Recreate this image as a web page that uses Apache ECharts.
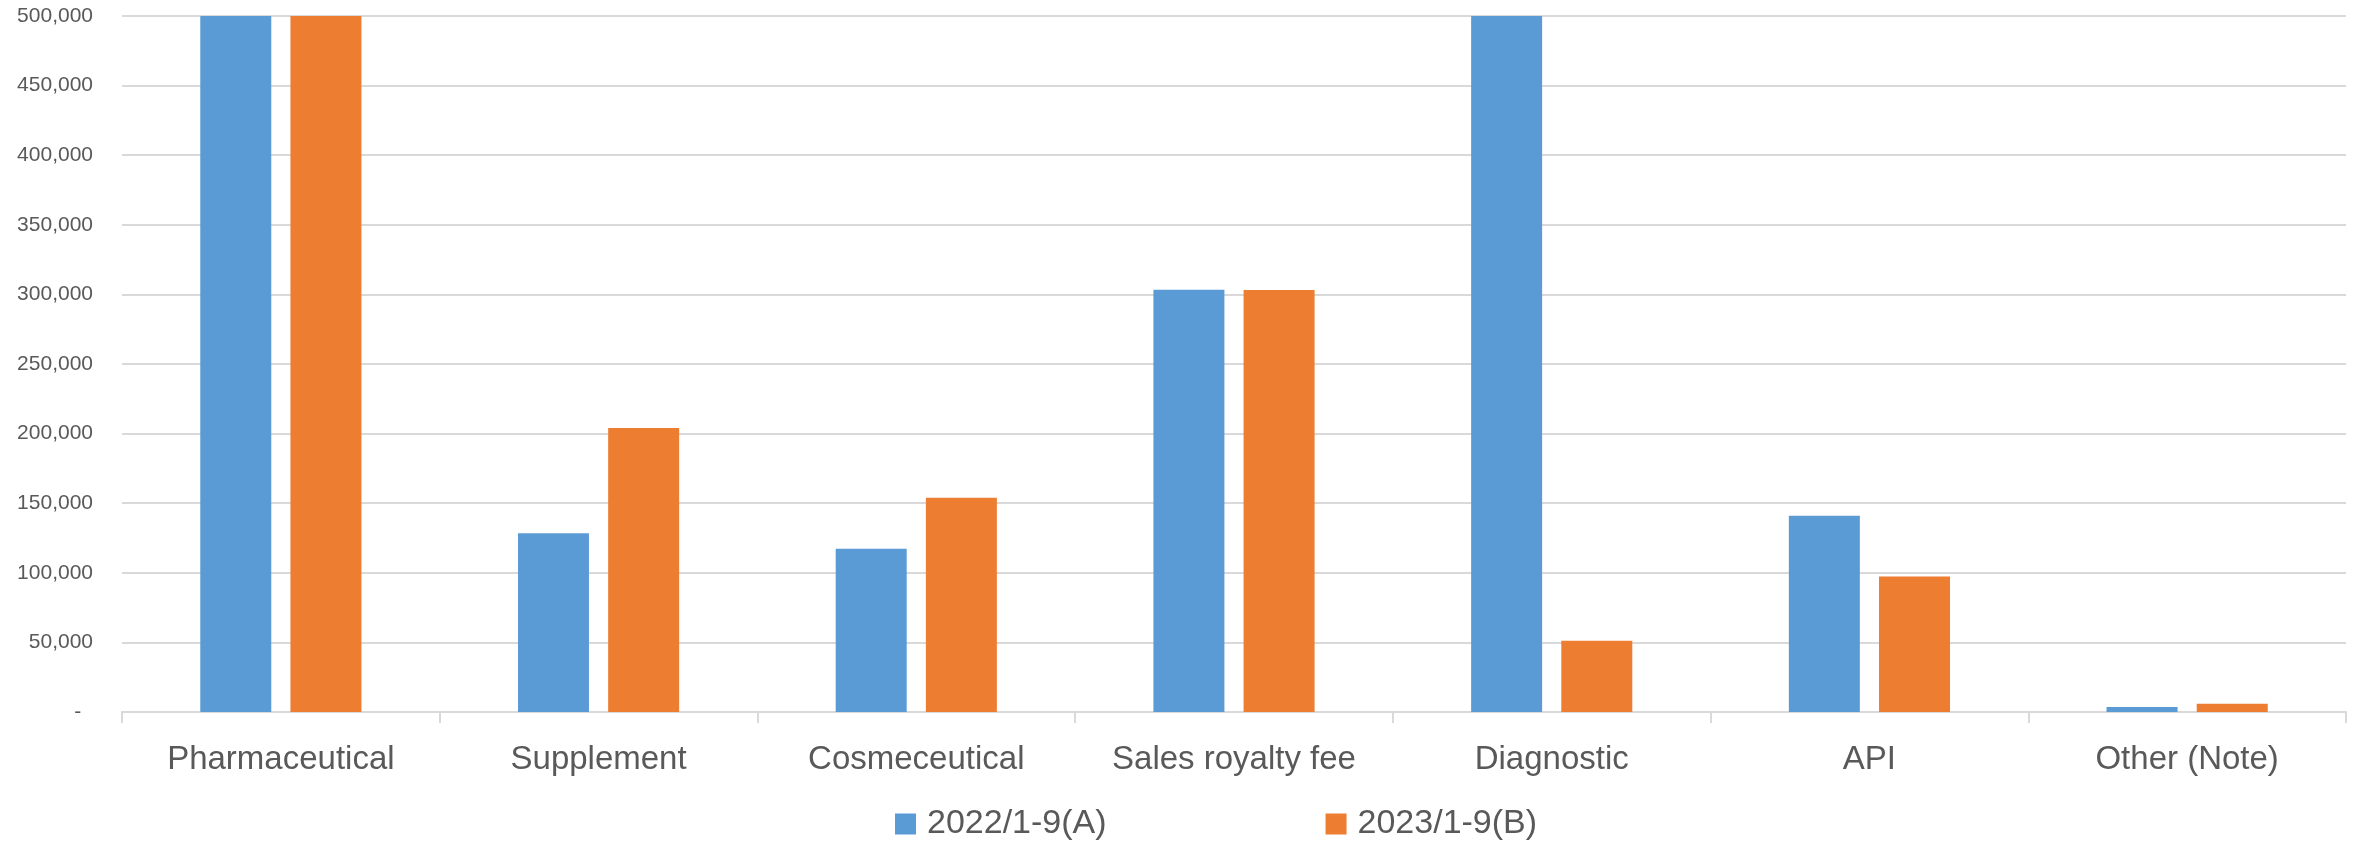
<!DOCTYPE html>
<html>
<head>
<meta charset="utf-8">
<script src="https://cdn.jsdelivr.net/npm/echarts@6/dist/echarts.min.js"></script>
<style>
html,body{margin:0;padding:0;background:#fff;}
#chart{width:2362px;height:845px;}
</style>
</head>
<body>
<div id="chart"></div>
<script>
// Categories and series (values above 500,000 are clipped in the source chart at the axis maximum)
const categories = ['Pharmaceutical', 'Supplement', 'Cosmeceutical', 'Sales royalty fee', 'Diagnostic', 'API', 'Other (Note)'];
const seriesNames = ['2022/1-9(A)', '2023/1-9(B)'];
const values2022 = [500000, 128500, 117200, 303400, 500000, 141000, 3600];
const values2023 = [500000, 204000, 154000, 303100, 51200, 97300, 6000];
const yTicks = { min: 0, max: 500000, interval: 50000 };

const chart = echarts.init(document.getElementById('chart'), null, { renderer: 'canvas' });
const fmt = v => v === 0 ? '-  ' : v.toLocaleString('en-US');

chart.setOption({
  animation: false,
  backgroundColor: '#ffffff',
  grid: { left: 122, right: 16, top: 16, bottom: 133, containLabel: false },
  legend: {
    data: seriesNames,
    left: 895,
    top: 807,
    padding: 0,
    itemWidth: 21,
    itemHeight: 21,
    itemGap: 219,
    icon: 'rect',
    textStyle: { fontFamily: '"Liberation Sans", sans-serif', fontSize: 34, color: '#595959', padding: [0, 0, 0, 6] }
  },
  xAxis: {
    type: 'category',
    data: categories,
    axisLine: { lineStyle: { color: '#d9d9d9', width: 2 } },
    axisTick: { show: true, length: 11, lineStyle: { color: '#d9d9d9', width: 2 } },
    axisLabel: { fontFamily: '"Liberation Sans", sans-serif', fontSize: 33, color: '#595959', margin: 31 }
  },
  yAxis: {
    type: 'value',
    min: yTicks.min,
    max: yTicks.max,
    interval: yTicks.interval,
    axisLine: { show: false },
    axisTick: { show: false },
    splitLine: { lineStyle: { color: '#d9d9d9', width: 2 } },
    axisLabel: { fontFamily: '"Liberation Sans", sans-serif', fontSize: 21, color: '#595959', margin: 29, formatter: fmt }
  },
  series: [
    { name: seriesNames[0], type: 'bar', data: values2022, barWidth: 71, barGap: '27%', clip: true, itemStyle: { color: '#5B9BD5' } },
    { name: seriesNames[1], type: 'bar', data: values2023, barWidth: 71, barGap: '27%', clip: true, itemStyle: { color: '#ED7D31' } }
  ]
});
</script>
</body>
</html>
